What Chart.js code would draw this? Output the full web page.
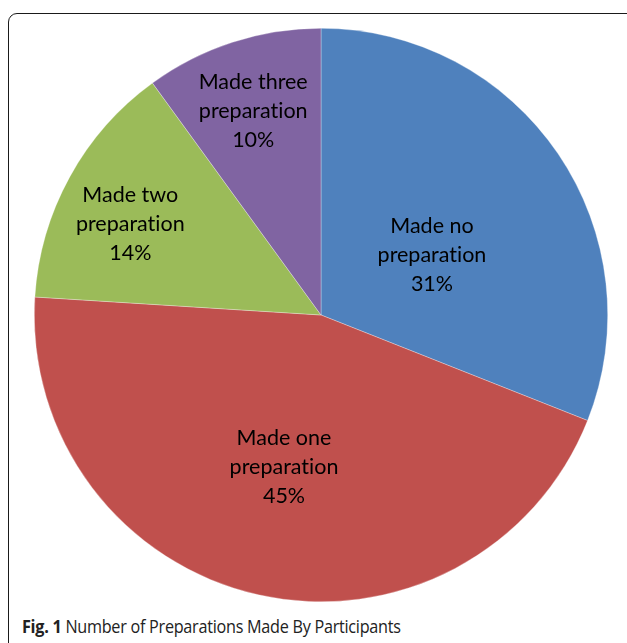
<!DOCTYPE html>
<html>
<head>
<meta charset="utf-8">
<script src="https://cdn.jsdelivr.net/npm/chart.js@4"></script>
<style>
  body { margin: 0; background: #fff; width: 627px; height: 643px; overflow: hidden; position: relative; }
  #frame { position: absolute; left: 8px; top: 13px; width: 660px; height: 680px; border: 1.5px solid #1a1a1a; border-radius: 9px; box-sizing: border-box; }
  #wrap { position: absolute; left: 34px; top: 28px; width: 574px; height: 574px; }
  #caption { position: absolute; left: 22px; top: 614px; font-family: "Open Sans", "Noto Sans", sans-serif; font-size: 18px; color: #222; white-space: nowrap; letter-spacing: -0.3px; transform: scaleX(0.9); transform-origin: left center; }
  #caption b { font-weight: 700; }
</style>
</head>
<body>
<div id="frame"></div>
<div id="wrap"><canvas id="pie" width="574" height="574"></canvas></div>
<div id="caption"><b>Fig. 1</b> Number of Preparations Made By Participants</div>
<script>
// data
const categories = ['Made no preparation', 'Made one preparation', 'Made two preparation', 'Made three preparation'];
const labelLines = [['Made no', 'preparation'], ['Made one', 'preparation'], ['Made two', 'preparation'], ['Made three', 'preparation']];
const percents = [31, 45, 14, 10];
const colors = ['#4F81BD', '#C0504D', '#9BBB59', '#8064A2'];

// label placement, like Excel's best fit: fraction of radius and angle nudge (deg)
const labelRadius = [0.44, 0.545, 0.737, 0.749];
const labelTurn = [5.8, 1.1, -3.3, -0.4];

// draws the in-slice labels
const sliceLabels = {
  id: 'sliceLabels',
  afterDatasetsDraw(chart) {
    const ctx = chart.ctx;
    const meta = chart.getDatasetMeta(0);
    ctx.save();
    ctx.font = '21.5px Lato, "Liberation Sans", sans-serif';
    ctx.fillStyle = '#000';
    ctx.textAlign = 'center';
    ctx.textBaseline = 'middle';
    meta.data.forEach((arc, i) => {
      const mid = (arc.startAngle + arc.endAngle) / 2 + labelTurn[i] * Math.PI / 180;
      const r = arc.outerRadius * labelRadius[i];
      const x = arc.x + Math.cos(mid) * r;
      const y = arc.y + Math.sin(mid) * r;
      const lines = labelLines[i].concat([percents[i] + '%']);
      const lh = 29;
      lines.forEach((t, k) => {
        // break Lato's "ti" ligature
        ctx.fillText(t.replace(/ti/g, 't\u200Ci'), x, y + (k - (lines.length - 1) / 2) * lh);
      });
    });
    ctx.restore();
  }
};

new Chart(document.getElementById('pie'), {
  type: 'pie',
  data: {
    labels: categories,
    datasets: [{
      data: percents,
      backgroundColor: colors,
      borderColor: 'rgba(255,255,255,0.5)',
      borderWidth: 0.6
    }]
  },
  options: {
    responsive: false,
    animation: false,
    layout: { padding: 0 },
    plugins: { legend: { display: false }, tooltip: { enabled: false } }
  },
  plugins: [sliceLabels]
});
</script>
</body>
</html>
